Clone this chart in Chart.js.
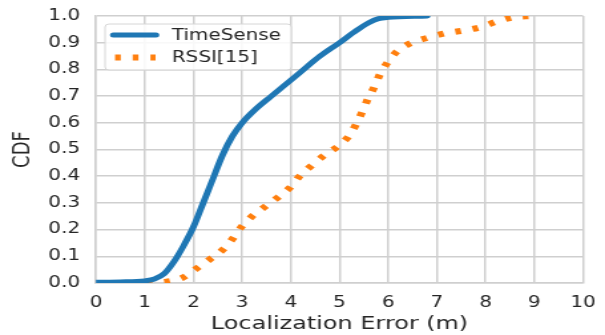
<!DOCTYPE html>
<html>
<head>
<meta charset="utf-8">
<script src="https://cdn.jsdelivr.net/npm/chart.js@4/dist/chart.umd.min.js"></script>
<style>
  html, body { margin: 0; padding: 0; background: #fff; overflow: hidden; }
  /* the reference figure is stretched sideways, so draw narrow and stretch */
  #wrap { width: 455px; height: 335px; transform: scaleX(1.32967); transform-origin: 0 0; }
</style>
</head>
<body>
<div id="wrap"><canvas id="cdf" width="455" height="335"></canvas></div>
<script>
// values
const seriesNames = ["TimeSense", "RSSI[15]"];

const timeSenseX = [0, 0.5, 1.0, 1.2, 1.4, 1.6, 1.8, 2.0, 2.2, 2.4, 2.6, 2.8, 3.0, 3.3, 3.6, 4.0, 4.2, 4.6, 5.0, 5.3, 5.6, 5.8, 6.0, 6.8];
const timeSenseY = [0.003, 0.004, 0.008, 0.015, 0.035, 0.08, 0.14, 0.21, 0.30, 0.39, 0.48, 0.55, 0.60, 0.655, 0.70, 0.76, 0.79, 0.85, 0.90, 0.94, 0.975, 0.99, 0.995, 1.0];

const rssiX = [1.04, 1.45, 1.78, 2.07, 2.34, 2.6, 2.81, 2.99, 3.21, 3.47, 3.73, 3.98, 4.17, 4.43, 4.67, 4.96, 5.18, 5.34, 5.46, 5.58, 5.71, 5.83, 5.99, 6.19, 6.48, 6.82, 7.17, 7.53, 7.89, 8.24, 8.57, 8.95];
const rssiY = [0, 0.005, 0.02, 0.055, 0.089, 0.124, 0.167, 0.211, 0.251, 0.286, 0.32, 0.357, 0.398, 0.44, 0.476, 0.511, 0.548, 0.594, 0.639, 0.688, 0.733, 0.782, 0.827, 0.869, 0.90, 0.919, 0.935, 0.945, 0.958, 0.98, 0.995, 1.0];

const xTicks = [0, 1, 2, 3, 4, 5, 6, 7, 8, 9, 10];
const yTicks = [0, 0.1, 0.2, 0.3, 0.4, 0.5, 0.6, 0.7, 0.8, 0.9, 1.0];

const textColor = "#262626";
const gridColor = "#cfcfcf";
const fontFamily = "'DejaVu Sans', sans-serif";

function toPoints(xs, ys) {
  return xs.map((x, i) => ({ x: x, y: ys[i] }));
}

// legend drawn inside the plot, top left, like matplotlib
const insideLegend = {
  id: "insideLegend",
  afterDraw(chart) {
    const ctx = chart.ctx;
    const area = chart.chartArea;
    const bx = area.left + 6.8, by = area.top + 8, bw = 140, bh = 46;
    ctx.save();
    ctx.beginPath();
    ctx.roundRect(bx, by, bw, bh, 3);
    ctx.fillStyle = "rgba(255,255,255,0.85)";
    ctx.fill();
    ctx.strokeStyle = "#d6d6d6";
    ctx.lineWidth = 1;
    ctx.stroke();

    chart.data.datasets.forEach((ds, i) => {
      const y = by + 11 + i * 22.5;
      ctx.beginPath();
      ctx.strokeStyle = ds.borderColor;
      ctx.lineWidth = ds.borderWidth;
      if (ds.borderDash) {
        ctx.lineCap = "butt";
        ctx.setLineDash(ds.borderDash);
        ctx.moveTo(bx + 7.5, y);
        ctx.lineTo(bx + 38, y);
      } else {
        ctx.lineCap = "round";
        ctx.moveTo(bx + 6.2, y);
        ctx.lineTo(bx + 38.3, y);
      }
      ctx.stroke();
      ctx.setLineDash([]);
      ctx.fillStyle = textColor;
      ctx.font = "15px " + fontFamily;
      ctx.textAlign = "left";
      ctx.textBaseline = "middle";
      ctx.fillText(ds.label, bx + 50.2, y + 1);
    });
    ctx.restore();
  }
};

new Chart(document.getElementById("cdf"), {
  type: "line",
  data: {
    datasets: [{
      label: seriesNames[0],
      data: toPoints(timeSenseX, timeSenseY),
      borderColor: "#1f77b4",
      borderWidth: 5,
      pointRadius: 0,
      cubicInterpolationMode: "monotone",
      borderCapStyle: "round",
      clip: 0,
      fill: false
    }, {
      label: seriesNames[1],
      data: toPoints(rssiX, rssiY),
      borderColor: "#ff7f0e",
      borderWidth: 6,
      borderDash: [4.3, 9],
      pointRadius: 0,
      cubicInterpolationMode: "monotone",
      borderCapStyle: "butt",
      clip: 0,
      fill: false
    }]
  },
  options: {
    responsive: false,
    animation: false,
    devicePixelRatio: 1,
    layout: { padding: { top: 16, right: 16.5, left: 0, bottom: 0 } },
    plugins: {
      legend: { display: false },
      tooltip: { enabled: false }
    },
    scales: {
      x: {
        type: "linear",
        min: xTicks[0],
        max: xTicks[xTicks.length - 1],
        afterFit(scale) {
          scale.height = 52;
          scale.paddingLeft = 0;
          scale.paddingRight = 0;
        },
        afterBuildTicks(scale) { scale.ticks = xTicks.map(v => ({ value: v })); },
        ticks: {
          color: textColor,
          font: { family: fontFamily, size: 15 },
          padding: 11,
          maxRotation: 0,
          callback: v => String(v)
        },
        grid: { color: gridColor, lineWidth: 1.5, drawTicks: false },
        border: { color: gridColor, width: 1.5 },
        title: {
          display: true,
          text: "Localization Error (m)",
          color: textColor,
          font: { family: fontFamily, size: 18 },
          padding: { top: 0, bottom: 0 }
        }
      },
      y: {
        type: "linear",
        min: yTicks[0],
        max: yTicks[yTicks.length - 1],
        afterFit(scale) {
          scale.width = 72.2;
          scale.paddingTop = 0;
          scale.paddingBottom = 0;
        },
        afterBuildTicks(scale) { scale.ticks = yTicks.map(v => ({ value: v })); },
        ticks: {
          color: textColor,
          font: { family: fontFamily, size: 15 },
          padding: 12,
          callback: v => Number(v).toFixed(1)
        },
        grid: { color: gridColor, lineWidth: 1.5, drawTicks: false },
        border: { color: gridColor, width: 1.5 },
        title: {
          display: true,
          text: "CDF",
          color: textColor,
          font: { family: fontFamily, size: 18 },
          padding: { top: 7, bottom: 0 }
        }
      }
    }
  },
  plugins: [insideLegend]
});
</script>
</body>
</html>
